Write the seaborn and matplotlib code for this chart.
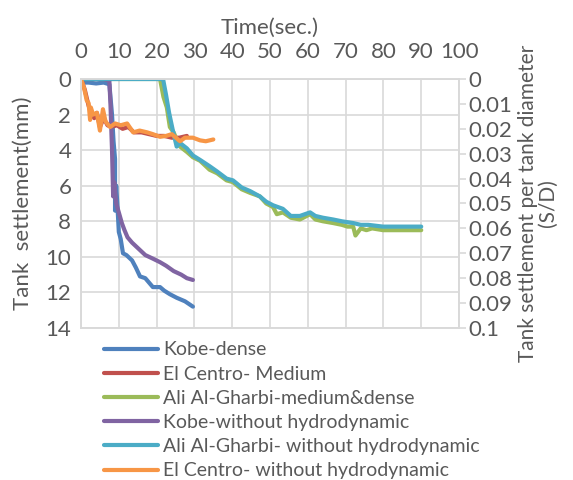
import matplotlib
matplotlib.use('Agg')
import matplotlib.pyplot as plt
import seaborn as sns

# time (sec) / settlement (mm)
kobe_dense_t = [0, 2, 4, 6, 7.5, 8.2, 8.6, 9.0, 9.0, 9.3, 9.6, 10.0, 10.5, 11.1, 12.0, 13.5, 14.5, 15.6, 17.0, 19.0, 20.9, 22.0, 23.5, 25.3, 27.5, 29.6]
kobe_dense_s = [0.2, 0.2, 0.25, 0.2, 0.3, 2.0, 3.5, 4.5, 7.4, 6.0, 7.0, 8.6, 9.0, 9.8, 9.9, 10.2, 10.6, 11.1, 11.2, 11.7, 11.7, 11.9, 12.1, 12.3, 12.5, 12.8]

el_centro_t = [0, 1.0, 2.0, 2.8, 3.5, 4.2, 5.0, 6.0, 7.0, 8.0, 9.5, 11.0, 12.5, 14.0, 16.0, 18.0, 20.0, 22.0, 24.0, 26.0, 28.0]
el_centro_s = [0, 0.6, 1.5, 2.0, 2.2, 1.9, 2.7, 2.2, 2.6, 2.7, 2.6, 2.8, 2.7, 3.0, 3.0, 3.1, 3.2, 3.2, 3.3, 3.3, 3.2]

gharbi_t = [0, 5, 10, 15, 20.9, 21.8, 22.7, 23.5, 24.5, 25.3, 26.2, 28.0, 29.6, 31.5, 34.0, 36.0, 38.5, 40.2, 42.5, 44.7, 47.3, 49.0, 50.8, 51.8, 53.4, 55.5, 57.9, 60.6, 62.0, 64.0, 66.7, 69.0, 70.5, 72.0, 72.6, 74.0, 75.5, 77.0, 79.9, 83.0, 86.0, 90.0]
gharbi_s = [0, 0, 0, 0, 0, 1.0, 1.6, 2.7, 3.0, 3.4, 3.8, 4.1, 4.4, 4.6, 5.1, 5.3, 5.7, 5.8, 6.2, 6.4, 6.6, 7.0, 7.2, 7.6, 7.5, 7.8, 7.9, 7.6, 7.9, 8.0, 8.1, 8.2, 8.3, 8.3, 8.8, 8.4, 8.5, 8.4, 8.5, 8.5, 8.5, 8.5]

kobe_nohyd_t = [0, 2, 4, 6, 7.5, 7.8, 8.2, 8.5, 8.8, 9.3, 10.0, 10.8, 11.5, 12.3, 13.5, 15.0, 17.0, 19.0, 20.9, 22.5, 24.5, 26.5, 28.0, 29.6]
kobe_nohyd_s = [0, 0, 0, 0, 0.1, 1.5, 4.0, 6.6, 5.8, 7.0, 7.5, 8.1, 8.5, 8.9, 9.2, 9.5, 9.9, 10.1, 10.3, 10.5, 10.8, 11.0, 11.2, 11.3]

gharbi_nohyd_t = [0, 5, 10, 15, 21.7, 22.5, 23.3, 24.3, 25.3, 26.2, 28.0, 29.6, 31.5, 34.0, 36.0, 38.5, 40.2, 42.5, 44.7, 47.3, 49.0, 50.8, 53.4, 55.5, 57.9, 60.6, 62.0, 64.0, 66.7, 69.0, 72.0, 74.0, 76.0, 79.9, 84.0, 90.0]
gharbi_nohyd_s = [0, 0, 0, 0, 0, 0.9, 1.9, 2.9, 3.8, 3.6, 3.9, 4.3, 4.55, 4.9, 5.2, 5.6, 5.7, 6.1, 6.3, 6.6, 6.9, 7.1, 7.3, 7.7, 7.7, 7.5, 7.7, 7.8, 7.9, 8.0, 8.1, 8.2, 8.2, 8.3, 8.3, 8.3]

el_centro_nohyd_t = [0, 0.8, 1.5, 2.0, 2.4, 2.6, 3.2, 4.2, 5.0, 5.8, 6.5, 7.7, 9.0, 10.5, 12.2, 13.8, 15.5, 17.5, 19.0, 20.9, 22.5, 24.0, 26.2, 27.5, 29.6, 31.5, 33.0, 35.0]
el_centro_nohyd_s = [0, 0.5, 1.2, 1.35, 2.3, 1.6, 2.0, 1.9, 2.9, 1.7, 2.4, 2.7, 2.5, 2.6, 2.5, 3.0, 2.9, 3.0, 3.1, 3.25, 3.2, 3.1, 3.5, 3.3, 3.3, 3.45, 3.5, 3.4]

series = [
    ('Kobe-dense', kobe_dense_t, kobe_dense_s, '#4F81BD'),
    ('El Centro- Medium', el_centro_t, el_centro_s, '#C0504D'),
    ('Ali Al-Gharbi-medium&dense', gharbi_t, gharbi_s, '#9BBB59'),
    ('Kobe-without hydrodynamic', kobe_nohyd_t, kobe_nohyd_s, '#8064A2'),
    ('Ali Al-Gharbi- without hydrodynamic', gharbi_nohyd_t, gharbi_nohyd_s, '#4BACC6'),
    ('El Centro- without hydrodynamic', el_centro_nohyd_t, el_centro_nohyd_s, '#F79646'),
]

sns.set_style('white')
plt.rcParams['font.family'] = ['Lato', 'DejaVu Sans']
text_color = '#595959'
grid_color = '#D9D9D9'

fig = plt.figure(figsize=(5.73, 4.8), dpi=100)
ax = fig.add_axes([0.1414, 0.3167, 0.6597, 0.5187])

for label, t, s, c in series:
    sns.lineplot(x=t, y=s, ax=ax, color=c, lw=3, label=label, sort=False, estimator=None)

ax.set_xlim(0, 100)
ax.set_ylim(14, 0)
ax.set_xticks(range(0, 101, 10))
ax.set_yticks(range(0, 15, 2))
ax.xaxis.tick_top()
ax.xaxis.set_label_position('top')
ax.set_xlabel('Time(sec.)', fontsize=16, color=text_color, labelpad=6)
ax.set_ylabel('Tank  settlement(mm)', fontsize=16, color=text_color, labelpad=9)
ax.tick_params(axis='both', labelsize=16, colors=text_color, length=0, pad=7)
ax.tick_params(axis='x', pad=12)
ax.grid(True, color=grid_color, lw=1.2)
for side, sp in ax.spines.items():
    sp.set_color(grid_color)
    sp.set_linewidth(1.2)

ax2 = ax.twinx()
ax2.set_ylim(0.1, 0)
ax2.set_yticks([i / 100 for i in range(11)])
ax2.set_yticklabels(['0'] + ['%.2f' % (i / 100) for i in range(1, 10)] + ['0.1'])
ax2.tick_params(axis='y', labelsize=16, labelcolor=text_color, color=grid_color, length=5, width=1.2, pad=2)
ax2.set_ylabel('Tank settlement per tank diameter\n(S/D)', fontsize=15, color=text_color,
               rotation=90, labelpad=4, linespacing=1.0)
for side, sp in ax2.spines.items():
    sp.set_color(grid_color)
    sp.set_linewidth(1.2)

handles, labels = ax.get_legend_handles_labels()
ax.get_legend().remove()
fig.legend(handles, labels, loc='upper left', bbox_to_anchor=(0.168, 0.305), frameon=False,
           fontsize=14, labelcolor=text_color, handlelength=2.8, handletextpad=0.25,
           labelspacing=0.37, borderaxespad=0)

fig.savefig('out.png', dpi=100)
